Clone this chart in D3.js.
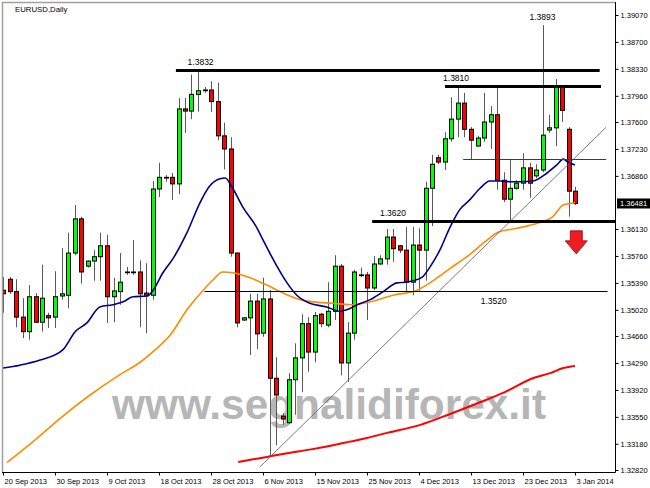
<!DOCTYPE html>
<html>
<head>
<meta charset="utf-8">
<script src="https://cdn.jsdelivr.net/npm/d3@7"></script>
<style>
  body { margin: 0; background: #fff; }
  svg { display: block; }
  text { font-family: "Liberation Sans", Arial, sans-serif; }
</style>
</head>
<body>
<svg width="650" height="488"></svg>
<script>
// daily candles, bar 0 = 20 Sep 2013 ... bar 88 = 3 Jan 2014
const opens = [
  1.3529, 1.3544, 1.3527, 1.3492, 1.3472, 1.3520, 1.3485, 1.3494, 1.3492, 1.3521,
  1.3522, 1.3580, 1.3627, 1.3562, 1.3569, 1.3575, 1.3590, 1.3520, 1.3527, 1.3554,
  1.3554, 1.3554, 1.3525, 1.3522, 1.3668, 1.3683, 1.3684, 1.3675, 1.3778, 1.3775,
  1.3798, 1.3804, 1.3804, 1.3788, 1.3741, 1.3723, 1.3580, 1.3488, 1.3491, 1.3514,
  1.3470, 1.3517, 1.3408, 1.3356, 1.3347, 1.3406, 1.3436, 1.3483, 1.3444, 1.3496,
  1.3481, 1.3500, 1.3562, 1.3429, 1.3470, 1.3549, 1.3550, 1.3532, 1.3565, 1.3572,
  1.3602, 1.3590, 1.3584, 1.3540, 1.3591, 1.3584, 1.3669, 1.3711, 1.3705, 1.3737,
  1.3764, 1.3786, 1.3750, 1.3727, 1.3738, 1.3760, 1.3770, 1.3680, 1.3654, 1.3669,
  1.3676, 1.3697, 1.3686, 1.3694, 1.3749, 1.3752, 1.3808, 1.3750, 1.3665
]
const highs = [
  1.3547, 1.3547, 1.3544, 1.3518, 1.3536, 1.3525, 1.3564, 1.3498, 1.3555, 1.3587,
  1.3608, 1.3646, 1.3630, 1.3570, 1.3584, 1.3608, 1.3605, 1.3546, 1.3580, 1.3561,
  1.3598, 1.3570, 1.3566, 1.3679, 1.3704, 1.3687, 1.3690, 1.3793, 1.3793, 1.3825,
  1.3832, 1.3808, 1.3816, 1.3814, 1.3759, 1.3739, 1.3581, 1.3492, 1.3524, 1.3524,
  1.3546, 1.3529, 1.3437, 1.3360, 1.3415, 1.3456, 1.3496, 1.3492, 1.3499, 1.3498,
  1.3540, 1.3577, 1.3565, 1.3485, 1.3557, 1.3560, 1.3554, 1.3576, 1.3577, 1.3613,
  1.3613, 1.3591, 1.3616, 1.3616, 1.3614, 1.3678, 1.3715, 1.3715, 1.3746, 1.3794,
  1.3810, 1.3800, 1.3753, 1.3741, 1.3800, 1.3782, 1.3810, 1.3691, 1.3709, 1.3680,
  1.3717, 1.3704, 1.3702, 1.3893, 1.3770, 1.3819, 1.3810, 1.3753, 1.3671
]
const lows = [
  1.3498, 1.3524, 1.3478, 1.3463, 1.3461, 1.3484, 1.3472, 1.3477, 1.3477, 1.3516,
  1.3504, 1.3577, 1.3538, 1.3560, 1.3542, 1.3542, 1.3484, 1.3485, 1.3509, 1.3550,
  1.3550, 1.3478, 1.3470, 1.3516, 1.3657, 1.3678, 1.3653, 1.3661, 1.3745, 1.3764,
  1.3774, 1.3800, 1.3774, 1.3735, 1.3695, 1.3575, 1.3478, 1.3487, 1.3440, 1.3448,
  1.3465, 1.3300, 1.3316, 1.3344, 1.3345, 1.3358, 1.3389, 1.3417, 1.3430, 1.3478,
  1.3478, 1.3488, 1.3412, 1.3403, 1.3461, 1.3547, 1.3488, 1.3529, 1.3564, 1.3564,
  1.3568, 1.3580, 1.3525, 1.3522, 1.3528, 1.3542, 1.3617, 1.3702, 1.3694, 1.3733,
  1.3739, 1.3739, 1.3709, 1.3726, 1.3733, 1.3723, 1.3667, 1.3650, 1.3625, 1.3667,
  1.3667, 1.3656, 1.3683, 1.3691, 1.3745, 1.3727, 1.3760, 1.3630, 1.3646
]
const closes = [
  1.3524, 1.3527, 1.3492, 1.3472, 1.3520, 1.3485, 1.3518, 1.3491, 1.3520, 1.3524,
  1.3580, 1.3627, 1.3554, 1.3569, 1.3575, 1.3590, 1.3520, 1.3528, 1.3540, 1.3553,
  1.3553, 1.3524, 1.3522, 1.3668, 1.3684, 1.3684, 1.3675, 1.3778, 1.3775, 1.3798,
  1.3803, 1.3803, 1.3788, 1.3741, 1.3723, 1.3580, 1.3484, 1.3491, 1.3514, 1.3469,
  1.3517, 1.3408, 1.3385, 1.3352, 1.3406, 1.3436, 1.3483, 1.3444, 1.3494, 1.3483,
  1.3500, 1.3562, 1.3429, 1.3470, 1.3554, 1.3550, 1.3532, 1.3565, 1.3572, 1.3602,
  1.3586, 1.3584, 1.3540, 1.3591, 1.3584, 1.3669, 1.3702, 1.3705, 1.3737, 1.3764,
  1.3786, 1.3750, 1.3735, 1.3738, 1.3760, 1.3770, 1.3680, 1.3654, 1.3669, 1.3676,
  1.3697, 1.3676, 1.3694, 1.3742, 1.3752, 1.3808, 1.3776, 1.3665, 1.36481
]

// moving averages as [bar, price]
const maFast = [
  [0, 1.3422], [2.6, 1.3426], [5.7, 1.3433], [9.2, 1.3447], [11.1, 1.3472], [12.9, 1.3484],
  [14.9, 1.3506], [16.9, 1.3509], [18.5, 1.3513], [20, 1.3520], [22.2, 1.3521], [23.1, 1.3529],
  [24.6, 1.3553], [26.2, 1.3573], [28.3, 1.3608], [30.3, 1.3649], [31.8, 1.3672], [33.4, 1.3682],
  [34.2, 1.3683], [35.2, 1.3671], [36.9, 1.3643], [39.1, 1.3614], [40, 1.3598], [42.2, 1.3561],
  [43.7, 1.3539], [45.2, 1.3522], [47.2, 1.3511], [49.8, 1.3506], [51.8, 1.3500], [52.9, 1.3502],
  [54.5, 1.3509], [56.5, 1.3516], [58.5, 1.3527], [60.6, 1.3539], [61.8, 1.3540], [63.1, 1.3542],
  [64.5, 1.3547], [65.7, 1.3561], [67.2, 1.3584], [68.8, 1.3616], [70.3, 1.3640], [71.8, 1.3653],
  [73.4, 1.3669], [74.9, 1.3679], [76.5, 1.3679], [78, 1.3678], [79.5, 1.3678], [81.5, 1.3679],
  [83.7, 1.3690], [85.2, 1.3701], [86.2, 1.3709], [86.9, 1.3705], [88, 1.3701]
]
const maSlow = [
  [0.6, 1.3292], [4.9, 1.3323], [8.8, 1.3353], [13.4, 1.3385], [18, 1.3413], [21.1, 1.3430],
  [23.4, 1.3447], [25.7, 1.3467], [28.3, 1.3502], [30.8, 1.3529], [32.3, 1.3543], [33.8, 1.3554],
  [35.4, 1.3553], [38, 1.3546], [40.6, 1.3536], [43.1, 1.3525], [45.7, 1.3516], [47.7, 1.3513],
  [50.8, 1.3511], [53.4, 1.3509], [56.5, 1.3513], [60, 1.3522], [63.7, 1.3529], [66.8, 1.3546],
  [68.8, 1.3559], [71.4, 1.3575], [74.5, 1.3598], [76, 1.3608], [79.1, 1.3614], [82.2, 1.3621],
  [84.6, 1.3630], [86.2, 1.3646], [88, 1.3649]
]
const maLong = [
  [36.2, 1.3293], [40.6, 1.3300], [43.7, 1.3305], [47.2, 1.3310], [50.8, 1.3316], [53.4, 1.3321],
  [56, 1.3326], [59.1, 1.3333], [61.1, 1.3337], [64.2, 1.3344], [68.8, 1.3359], [73.4, 1.3375],
  [77.2, 1.3389], [81.5, 1.3408], [84.2, 1.3415], [86.2, 1.3422], [88, 1.3425]
]

// drawn objects
const resistPrices = [1.3832, 1.3810, 1.3624]
const resistLabels = ["1.3832", "1.3810", "1.3620"]
const resistFrom = [26.6, 68, 56.8]
const resistTo = [91.8, 92, 94.2]
const guidePrices = [1.3528, 1.3709]
const guideFrom = [31, 70.8]
const guideTo = [93, 92.8]
const guideLabel = "1.3520"
const trendBars = [39.5, 92.8]
const trendPrices = [1.3286, 1.3753]
const spikeLabel = "1.3893"
const lastPrice = 1.36481

const priceTicks = [1.39070, 1.38700, 1.38330, 1.37960, 1.37600, 1.37230, 1.36860,
  1.36130, 1.35760, 1.35390, 1.35020, 1.34660, 1.34290, 1.33920, 1.33550, 1.33180, 1.32820]
const dateTickBars = [0, 8, 16, 24, 32, 40, 48, 56, 64, 72, 80, 88]
const dateTickLabels = ["20 Sep 2013", "30 Sep 2013", "9 Oct 2013", "18 Oct 2013", "28 Oct 2013",
  "6 Nov 2013", "15 Nov 2013", "25 Nov 2013", "4 Dec 2013", "13 Dec 2013", "23 Dec 2013", "3 Jan 2014"]

const [plotLeft, plotTop, plotRight, plotBottom] = [2, 2, 615, 472]
const FONT = 7.5

const svg = d3.select("svg")
const x = d3.scaleLinear().domain([0, 88]).range([3, 575])
const y = d3.scaleLinear().domain([1.3282, 1.3907]).range([470, 15])

svg.append("rect").attr("width", 650).attr("height", 488).attr("fill", "#fff")

svg.append("defs").append("clipPath").attr("id", "plot")
  .append("rect")
  .attr("x", plotLeft).attr("y", plotTop)
  .attr("width", plotRight - plotLeft).attr("height", plotBottom - plotTop)

const plot = svg.append("g").attr("clip-path", "url(#plot)")

// watermark
plot.append("text")
  .attr("x", 112).attr("y", 419)
  .attr("textLength", 434).attr("lengthAdjust", "spacingAndGlyphs")
  .attr("font-size", 42).attr("font-weight", "bold")
  .attr("fill", "#b6b6b6")
  .text("www.segnalidiforex.it")

// candles
const bars = d3.range(opens.length)
const cx = (i) => Math.round(x(i)) + 0.5
const candle = plot.append("g").selectAll("g").data(bars).enter().append("g")
candle.append("line")
  .attr("x1", cx).attr("x2", cx)
  .attr("y1", (i) => y(highs[i])).attr("y2", (i) => y(lows[i]))
  .attr("stroke", "#5a5a5a").attr("stroke-width", 1)
candle.append("rect")
  .attr("x", (i) => cx(i) - 2)
  .attr("y", (i) => y(Math.max(opens[i], closes[i])))
  .attr("width", 4)
  .attr("height", (i) => Math.max(0.5, Math.abs(y(opens[i]) - y(closes[i]))))
  .attr("fill", (i) => closes[i] > opens[i] ? "#00ff00" : closes[i] < opens[i] ? "#ff0000" : "#000")
  .attr("stroke", "#000").attr("stroke-width", 1)

// moving averages
const maLine = d3.line().x((d) => x(d[0])).y((d) => y(d[1])).curve(d3.curveMonotoneX)
plot.append("path").datum(maLong).attr("d", maLine)
  .attr("fill", "none").attr("stroke", "#ff0000").attr("stroke-width", 2)
plot.append("path").datum(maSlow).attr("d", maLine)
  .attr("fill", "none").attr("stroke", "#ff8c00").attr("stroke-width", 1.6)
plot.append("path").datum(maFast).attr("d", maLine)
  .attr("fill", "none").attr("stroke", "#00008b").attr("stroke-width", 1.6)

// trend line
plot.append("line")
  .attr("x1", x(trendBars[0])).attr("y1", y(trendPrices[0]))
  .attr("x2", x(trendBars[1])).attr("y2", y(trendPrices[1]))
  .attr("stroke", "#6b6b6b").attr("stroke-width", 0.9)

// horizontal levels
resistPrices.forEach((p, k) => {
  plot.append("line")
    .attr("x1", x(resistFrom[k])).attr("x2", x(resistTo[k]))
    .attr("y1", Math.round(y(p)) + 0.5).attr("y2", Math.round(y(p)) + 0.5)
    .attr("stroke", "#000").attr("stroke-width", 3)
})
guidePrices.forEach((p, k) => {
  plot.append("line")
    .attr("x1", x(guideFrom[k])).attr("x2", x(guideTo[k]))
    .attr("y1", Math.round(y(p)) + 0.5).attr("y2", Math.round(y(p)) + 0.5)
    .attr("stroke", k === 0 ? "#000" : "#3a3a3a").attr("stroke-width", 1)
})

// level labels
const labelBars = [30.4, 67.7, 58]
const labelAnchor = ["middle", "start", "start"]
resistLabels.forEach((t, k) => {
  plot.append("text")
    .attr("x", x(labelBars[k])).attr("y", y(resistPrices[k]) - 5)
    .attr("text-anchor", labelAnchor[k])
    .attr("font-size", 8.5).attr("fill", "#000")
    .text(t)
})
plot.append("text")
  .attr("x", x(75.5)).attr("y", y(guidePrices[0]) + 13)
  .attr("text-anchor", "middle").attr("font-size", 8.5).attr("fill", "#000")
  .text(guideLabel)
plot.append("text")
  .attr("x", x(83)).attr("y", y(d3.max(highs)) - 5)
  .attr("text-anchor", "middle").attr("font-size", 8.5).attr("fill", "#000")
  .text(spikeLabel)

// down arrow
const ax = x(88.2)
const at = y(1.3627) + 12
plot.append("path")
  .attr("d", `M${ax - 6},${at} h12 v10 h5 l-11,13 l-11,-13 h5 z`)
  .attr("fill", "#ee1c25").attr("stroke", "#9b0000").attr("stroke-width", 0.8)

// frame
svg.append("line").attr("x1", plotLeft + 0.5).attr("x2", plotLeft + 0.5)
  .attr("y1", plotTop).attr("y2", plotBottom).attr("stroke", "#a0a0a0").attr("stroke-width", 1.5)
svg.append("line").attr("x1", plotLeft).attr("x2", plotRight)
  .attr("y1", plotTop + 0.5).attr("y2", plotTop + 0.5).attr("stroke", "#a0a0a0").attr("stroke-width", 1.5)
svg.append("line").attr("x1", plotRight + 0.5).attr("x2", plotRight + 0.5)
  .attr("y1", plotTop).attr("y2", plotBottom + 0.5).attr("stroke", "#000")
svg.append("line").attr("x1", plotLeft).attr("x2", plotRight + 0.5)
  .attr("y1", plotBottom + 0.5).attr("y2", plotBottom + 0.5).attr("stroke", "#000")

// price axis
const yAxis = d3.axisRight(y)
  .tickValues(priceTicks)
  .tickFormat(d3.format(".5f"))
  .tickSize(3).tickSizeOuter(0).tickPadding(2)
const gy = svg.append("g").attr("transform", `translate(${plotRight + 0.5},0)`).call(yAxis)
gy.select(".domain").remove()
gy.selectAll("text").attr("font-size", FONT).attr("font-family", "Liberation Sans, Arial, sans-serif")

// current price tag
svg.append("rect")
  .attr("x", plotRight + 2).attr("y", y(lastPrice) - 5)
  .attr("width", 650 - plotRight - 2).attr("height", 10).attr("fill", "#000")
svg.append("text")
  .attr("x", plotRight + 5).attr("y", y(lastPrice)).attr("dy", "0.35em")
  .attr("font-size", FONT).attr("fill", "#fff")
  .text(d3.format(".5f")(lastPrice))

// date axis
const xAxis = d3.axisBottom(x)
  .tickValues(dateTickBars)
  .tickFormat((d, k) => dateTickLabels[k])
  .tickSize(3).tickSizeOuter(0)
const gx = svg.append("g").attr("transform", `translate(0,${plotBottom + 0.5})`).call(xAxis)
gx.select(".domain").remove()
gx.selectAll("text")
  .attr("text-anchor", "start").attr("x", 1).attr("y", 6)
  .attr("font-size", FONT).attr("font-family", "Liberation Sans, Arial, sans-serif")

// title
svg.append("text")
  .attr("x", 15).attr("y", 12)
  .attr("font-size", 7.8).attr("fill", "#000")
  .text("EURUSD,Daily")
</script>
</body>
</html>
